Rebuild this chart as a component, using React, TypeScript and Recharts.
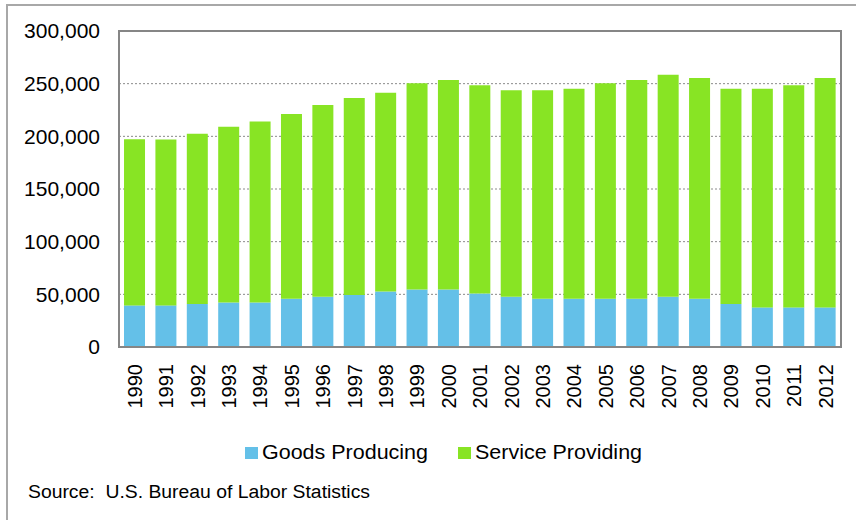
import React from "react";
import {
  BarChart,
  Bar,
  XAxis,
  YAxis,
  CartesianGrid,
  ReferenceArea,
} from "recharts";

/* ── データ（単位: 千人） ───────────────────────── */
const years = [
  "1990", "1991", "1992", "1993", "1994", "1995", "1996", "1997",
  "1998", "1999", "2000", "2001", "2002", "2003", "2004", "2005",
  "2006", "2007", "2008", "2009", "2010", "2011", "2012",
];

const goodsProducing = [
  39500, 39500, 40800, 42300, 42300, 45900, 47800, 49400,
  52800, 54700, 54700, 50900, 47800, 45900, 45900, 45900,
  45900, 47800, 45900, 40800, 37600, 37600, 37600,
];

const serviceProviding = [
  157700, 157500, 161700, 166900, 171900, 175300, 181900, 187000,
  188600, 195600, 198800, 197500, 195900, 197800, 199300, 204400,
  207600, 210700, 209500, 204400, 207600, 210800, 217800,
];

const yTicks = [0, 50000, 100000, 150000, 200000, 250000, 300000];

const GOODS = "#64c0e8";
const SERVICE = "#88e424";
const FONT = "'Liberation Sans', Arial, sans-serif";

const data = years.map((year, i) => ({
  year,
  goods: goodsProducing[i],
  service: serviceProviding[i],
}));

/* 年ラベル（縦書き） */
function YearTick({ x, y, payload }: any) {
  return (
    <g transform={`translate(${x},${y})`}>
      <text
        transform="rotate(-90)"
        x={-9}
        y={0}
        dy="0.36em"
        textAnchor="end"
        fill="#000"
        fontSize={20}
        fontFamily={FONT}
      >
        {payload.value}
      </text>
    </g>
  );
}

export default function App() {
  return (
    <div
      style={{
        position: "fixed",
        left: 0,
        top: 0,
        width: 856,
        height: 520,
        overflow: "hidden",
        background: "#fff",
      }}
    >
      {/* 外枠 */}
      <div
        style={{
          position: "absolute",
          left: 6,
          top: 4,
          width: 900,
          height: 600,
          borderLeft: "2px solid #a8a8a8",
          borderTop: "2px solid #a8a8a8",
        }}
      />

      <div style={{ position: "absolute", left: 0, top: 0 }}>
        <BarChart
          width={856}
          height={520}
          data={data}
          margin={{ top: 31, right: 15, left: 0, bottom: 0 }}
          barCategoryGap="16%"
        >
          <CartesianGrid
            vertical={false}
            stroke="#8a8a8a"
            strokeDasharray="2 2"
          />
          <XAxis
            dataKey="year"
            height={173}
            interval={0}
            tickLine={false}
            axisLine={{ stroke: "#868686", strokeWidth: 2 }}
            tick={<YearTick />}
          />
          <YAxis
            width={119}
            domain={[0, 300000]}
            ticks={yTicks}
            tickLine={false}
            tickSize={0}
            tickMargin={19}
            axisLine={{ stroke: "#868686", strokeWidth: 2 }}
            tick={{ fill: "#000", fontSize: 21, fontFamily: FONT }}
            tickFormatter={(v: number) => v.toLocaleString("en-US")}
          />
          <Bar
            dataKey="goods"
            stackId="a"
            fill={GOODS}
            isAnimationActive={false}
          />
          <Bar
            dataKey="service"
            stackId="a"
            fill={SERVICE}
            isAnimationActive={false}
          />
          <ReferenceArea
            y1={0}
            y2={300000}
            fill="none"
            stroke="#868686"
            strokeWidth={2}
          />
        </BarChart>
      </div>

      {/* 凡例と出典 */}
      <svg
        width={856}
        height={520}
        style={{ position: "absolute", left: 0, top: 0, pointerEvents: "none" }}
      >
        <rect x={245} y={447} width={13} height={12} fill={GOODS} />
        <text
          x={262}
          y={459}
          fontSize={20}
          fontFamily={FONT}
          fill="#000"
          textLength={166}
          lengthAdjust="spacingAndGlyphs"
        >
          Goods Producing
        </text>
        <rect x={458} y={447} width={13} height={12} fill={SERVICE} />
        <text
          x={475}
          y={459}
          fontSize={20}
          fontFamily={FONT}
          fill="#000"
          textLength={167}
          lengthAdjust="spacingAndGlyphs"
        >
          Service Providing
        </text>
        <text
          x={28}
          y={498}
          fontSize={18}
          fontFamily={FONT}
          fill="#000"
          textLength={342}
          lengthAdjust="spacingAndGlyphs"
          xmlSpace="preserve"
        >
          Source:  U.S. Bureau of Labor Statistics
        </text>
      </svg>
    </div>
  );
}
